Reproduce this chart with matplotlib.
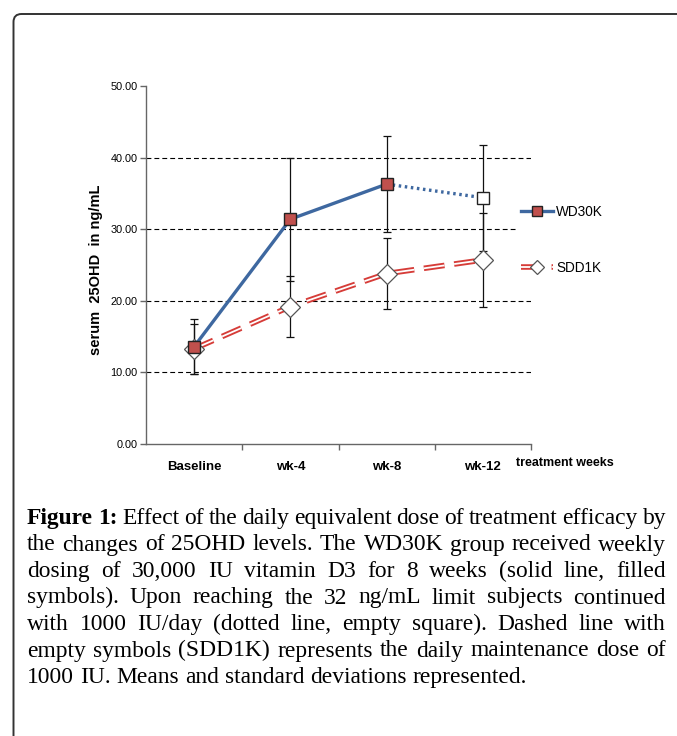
import matplotlib
matplotlib.use('Agg')
import matplotlib.pyplot as plt
from matplotlib.lines import Line2D
from matplotlib.patches import FancyBboxPatch
from matplotlib.transforms import IdentityTransform
from matplotlib.legend_handler import HandlerTuple

plt.rcParams['lines.scale_dashes'] = False

categories = ['Baseline', 'wk-4', 'wk-8', 'wk-12']
wd30k_mean = [13.6, 31.4, 36.3, 34.4]
wd30k_sd = [3.8, 8.6, 6.7, 7.4]
sdd1k_mean = [13.3, 19.2, 23.8, 25.7]
sdd1k_sd = [3.5, 4.3, 5.0, 6.6]
y_ticks = [0, 10, 20, 30, 40, 50]

caption_lines = [
    "Figure 1: Effect of the daily equivalent dose of treatment efficacy by",
    "the changes of 25OHD levels. The WD30K group received weekly",
    "dosing of 30,000 IU vitamin D3 for 8 weeks (solid line, filled",
    "symbols). Upon reaching the 32 ng/mL limit subjects continued",
    "with 1000 IU/day (dotted line, empty square). Dashed line with",
    "empty symbols (SDD1K) represents the daily maintenance dose of",
    "1000 IU. Means and standard deviations represented.",
]

W, H = 677, 736
fig = plt.figure(figsize=(W / 100, H / 100), dpi=100)

# rounded border, running off the right and bottom edges
border = FancyBboxPatch((13.5, -40), 720, H - 14 + 40, boxstyle='round,pad=0,rounding_size=8',
                        transform=IdentityTransform(), fill=False, ec='#333333', lw=1.4)
fig.patches.append(border)

sans = ['Liberation Sans', 'DejaVu Sans']
serif = ['Liberation Serif', 'DejaVu Serif']

ax = fig.add_axes([146 / W, (H - 444) / H, 385 / W, 358 / H])
ax.set_xlim(-0.5, 3.5)
ax.set_ylim(0, 50)
x = list(range(len(categories)))

for yv in y_ticks[1:-1]:
    ax.axhline(yv, color='black', lw=0.8, ls=(0, (3.5, 2.2)), zorder=1)

# SDD1K
ax.errorbar(x, sdd1k_mean, yerr=sdd1k_sd, fmt='none', ecolor='#111111', elinewidth=0.9,
            capsize=3, capthick=0.9, zorder=3)
red_l, = ax.plot(x, sdd1k_mean, color='#d63c38', lw=4.0, dashes=(15, 7), zorder=4)
white_l, = ax.plot(x, sdd1k_mean, color='white', lw=1.3, dashes=(15, 7), zorder=4)
ax.plot(x, sdd1k_mean, ls='none', marker='D', ms=10.5, mfc='white', mec='#555555', mew=0.9, zorder=5)
sdd_mark = Line2D([], [], ls='none', marker='D', ms=7, mfc='white', mec='#555555', mew=0.9)

# WD30K
ax.errorbar(x, wd30k_mean, yerr=wd30k_sd, fmt='none', ecolor='#111111', elinewidth=0.9,
            capsize=3, capthick=0.9, zorder=3)
ax.plot(x[:3], wd30k_mean[:3], color='#3e68a0', lw=2.4, zorder=6)
ax.plot(x[2:], wd30k_mean[2:], color='#3e68a0', lw=2.4, dashes=(1.8, 2.6), zorder=6)
ax.plot(x[:3], wd30k_mean[:3], ls='none', marker='s', ms=8.5, mfc='#c0504d', mec='#222222', mew=1, zorder=7)
ax.plot(x[3:], wd30k_mean[3:], ls='none', marker='s', ms=8.5, mfc='white', mec='#222222', mew=1, zorder=7)
wd_handle = Line2D([], [], color='#3e68a0', lw=2.4, marker='s', ms=7, mfc='#c0504d', mec='#222222', mew=1)

for s in ['top', 'right']:
    ax.spines[s].set_visible(False)
for s in ['left', 'bottom']:
    ax.spines[s].set_color('#666666')
    ax.spines[s].set_linewidth(1)

ax.set_yticks(y_ticks)
ax.set_yticklabels(['%.2f' % v for v in y_ticks], fontsize=7.8, family=sans)
ax.tick_params(axis='y', direction='out', length=4, width=1, color='#666666', pad=2)
ax.set_xticks(x)
ax.set_xticklabels(categories, fontsize=9.5, fontweight='bold', family=sans)
ax.set_xticks([0.5, 1.5, 2.5, 3.5], minor=True)
ax.tick_params(axis='x', which='major', length=0, pad=12)
ax.tick_params(axis='x', which='minor', direction='out', length=4, width=1, color='#666666')

fig.text(96 / W, 1 - 270 / H, 'serum  25OHD  in ng/mL', rotation=90, ha='center', va='center',
         fontsize=10.5, fontweight='bold', family=sans)
fig.text(516 / W, 1 - 463 / H, 'treatment weeks', ha='left', va='center',
         fontsize=9, fontweight='bold', family=sans)

leg = ax.legend([wd_handle, (red_l, white_l, sdd_mark)], ['WD30K', 'SDD1K'],
                handler_map={tuple: HandlerTuple(ndivide=1)},
                loc='center left', bbox_to_anchor=(516 / W, 496 / H), bbox_transform=fig.transFigure,
                borderaxespad=0, frameon=True, fancybox=False, framealpha=1,
                prop={'family': sans, 'size': 9.8}, labelspacing=3.1, handlelength=2.3,
                handletextpad=0.25, borderpad=0.4)
leg.get_frame().set_edgecolor('none')
leg.get_frame().set_facecolor('white')
leg.set_zorder(10)

# caption, justified line by line
fig.canvas.draw()
r = fig.canvas.get_renderer()


def text_w(s, size, bold=False):
    t = fig.text(0, 0, s, fontsize=size, family=serif, fontweight='bold' if bold else 'normal')
    w = t.get_window_extent(r).width
    t.remove()
    return w


fs = 14
fs = fs * 503 / text_w(caption_lines[-1], fs)
left, right = 27, 666
base0, step = 524, 26.5
for i, line in enumerate(caption_lines):
    words = line.split(' ')
    bold = [i == 0 and k < 2 for k in range(len(words))]
    widths = [text_w(wd, fs, b) for wd, b in zip(words, bold)]
    if i < len(caption_lines) - 1:
        gap = (right - left - sum(widths)) / (len(words) - 1)
    else:
        gap = text_w('a b', fs) - text_w('ab', fs)
    xp = left
    yp = H - (base0 + i * step)
    for wd, b, wdt in zip(words, bold, widths):
        fig.text(xp / W, yp / H, wd, fontsize=fs, family=serif, va='baseline', ha='left',
                 fontweight='bold' if b else 'normal')
        xp += wdt + gap

fig.savefig('out.png', dpi=100)
